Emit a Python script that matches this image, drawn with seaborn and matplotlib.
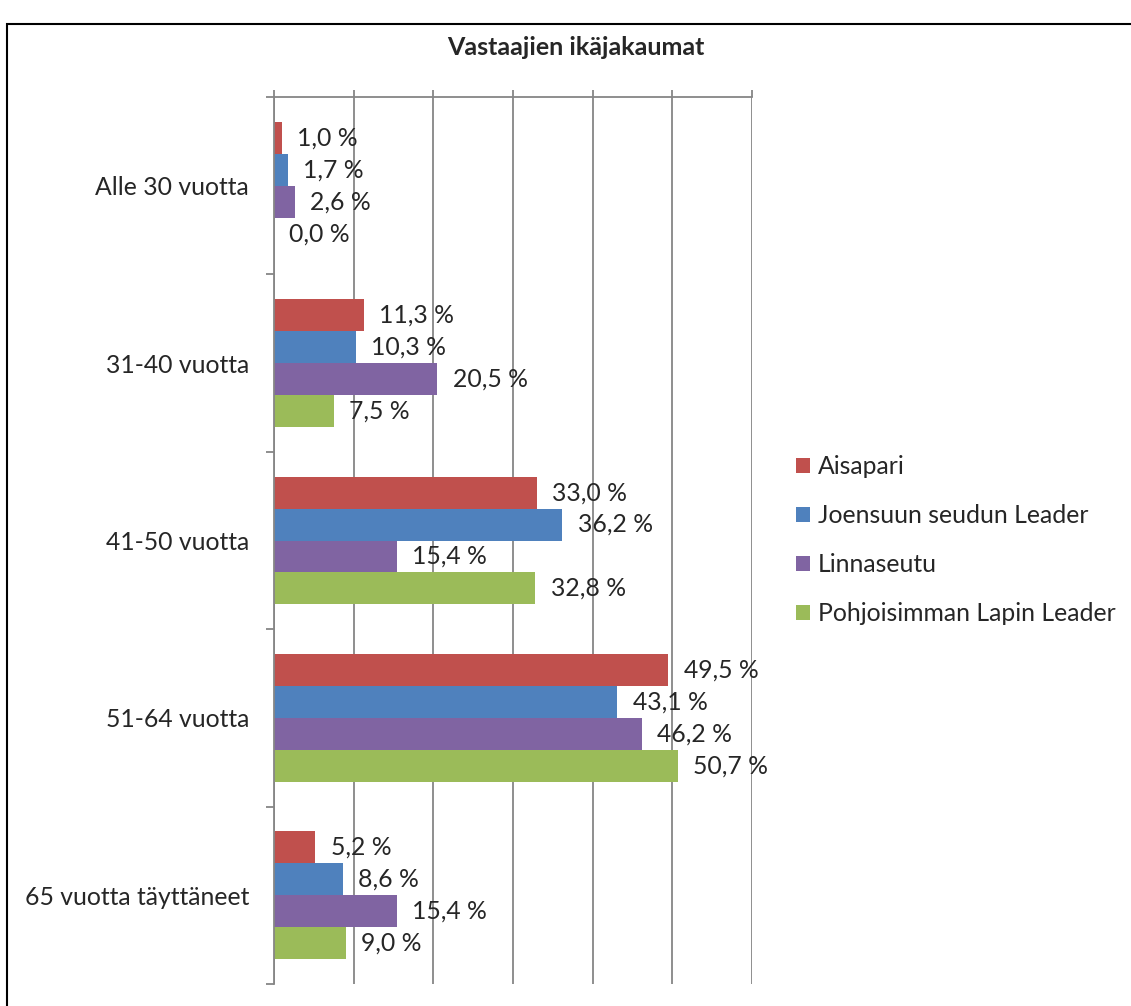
import matplotlib
matplotlib.use("Agg")
import matplotlib.pyplot as plt
import seaborn as sns
import pandas as pd
from matplotlib.patches import Rectangle, Patch

categories = ["Alle 30 vuotta", "31-40 vuotta", "41-50 vuotta", "51-64 vuotta", "65 vuotta täyttäneet"]
series = ["Aisapari", "Joensuun seudun Leader", "Linnaseutu", "Pohjoisimman Lapin Leader"]
aisapari = [1.0, 11.3, 33.0, 49.5, 5.2]
joensuu = [1.7, 10.3, 36.2, 43.1, 8.6]
linnaseutu = [2.6, 20.5, 15.4, 46.2, 15.4]
pohjoisin = [0.0, 7.5, 32.8, 50.7, 9.0]
colors = ["#C0504D", "#4F81BD", "#8064A2", "#9BBB59"]

rows = []
for name, vals in zip(series, [aisapari, joensuu, linnaseutu, pohjoisin]):
    for cat, v in zip(categories, vals):
        rows.append({"cat": cat, "series": name, "value": v})
df = pd.DataFrame(rows)

sns.set_style("white")
plt.rcParams["font.family"] = ["Lato", "DejaVu Sans"]
FS = 17.8

fig = plt.figure(figsize=(11.31, 10.06), dpi=100)
ax = fig.add_axes([274 / 1131, 22 / 1006, 478 / 1131, 887 / 1006])

sns.barplot(data=df, y="cat", x="value", hue="series", orient="h",
            palette=colors, width=0.72, ax=ax, legend=False,
            saturation=1, errorbar=None, linewidth=0)

for cont in ax.containers:
    labels = [f"{v:.1f} %".replace(".", ",") for v in cont.datavalues]
    ax.bar_label(cont, labels=labels, padding=11, fontsize=FS)

ax.set_xlim(0, 60)
ax.set_ylim(4.5, -0.5)
ax.set_xticks(range(0, 61, 10))
ax.xaxis.tick_top()
ax.tick_params(axis="x", which="major", direction="out", length=5, top=True,
               color="#868686", labeltop=False, labelbottom=False, width=1.3)
ax.grid(axis="x", color="#868686", linewidth=1.3)
ax.set_axisbelow(True)

ax.set_yticks([i - 0.5 for i in range(6)])
ax.set_yticklabels([])
ax.set_yticks(range(5), minor=True)
ax.set_yticklabels(categories, minor=True, fontsize=FS)
ax.tick_params(axis="y", which="major", direction="out", length=6, left=True,
               color="#868686", width=1.3)
ax.tick_params(axis="y", which="minor", length=0, pad=18, left=True)
ax.set_xlabel("")
ax.set_ylabel("")

for s in ["bottom", "right"]:
    ax.spines[s].set_visible(False)
for s in ["top", "left"]:
    ax.spines[s].set_color("#868686")
    ax.spines[s].set_linewidth(1.3)

fig.text(576 / 1131, 1 - 48 / 1006, "Vastaajien ikäjakaumat", ha="center",
         va="center", fontsize=18, fontweight="bold")

handles = [Patch(facecolor=c, edgecolor="none") for c in colors]
fig.legend(handles, series, loc="center left",
           bbox_to_anchor=(796 / 1131, 1 - 540 / 1006), frameon=False,
           fontsize=FS, handlelength=0.58, handleheight=0.58,
           handletextpad=0.3, labelspacing=1.05, borderpad=0,
           borderaxespad=0)

fig.patches.append(Rectangle((7 / 1131, -0.01), 1.0, 1 - 24 / 1006 + 0.01,
                             transform=fig.transFigure, fill=False,
                             edgecolor="black", linewidth=1.5))

fig.savefig("out.png", dpi=100)
